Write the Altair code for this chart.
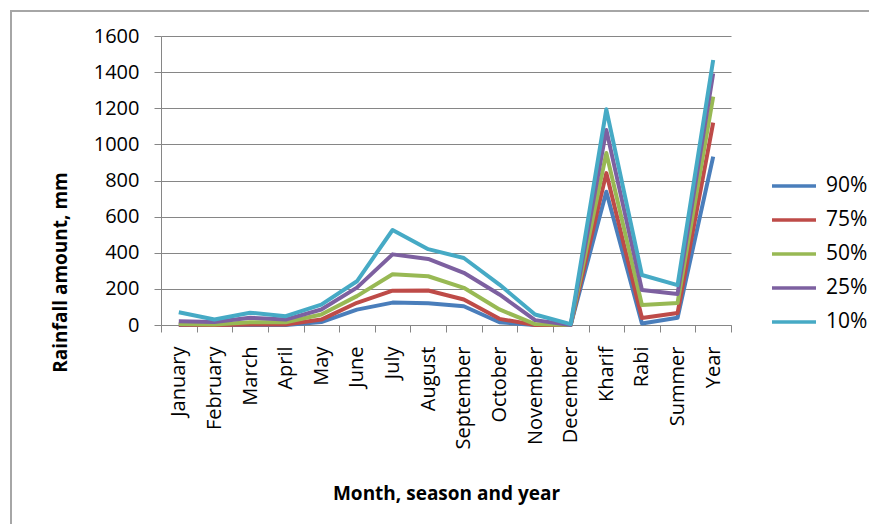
import altair as alt
import pandas as pd

categories = ["January", "February", "March", "April", "May", "June", "July",
              "August", "September", "October", "November", "December",
              "Kharif", "Rabi", "Summer", "Year"]
series_names = ["90%", "75%", "50%", "25%", "10%"]
series_colors = ["#4A7EBB", "#BE4B48", "#98B954", "#7D60A0", "#46AAC5"]

p90 = [0, 0, 0, 0, 16, 85, 124, 120, 104, 15, 0, 0, 738, 8, 40, 932]
p75 = [2, 0, 3, 3, 30, 123, 190, 191, 141, 34, 0, 0, 841, 39, 66, 1120]
p50 = [5, 3, 15, 15, 58, 160, 281, 270, 206, 86, 5, 0, 952, 111, 122, 1264]
p25 = [21, 17, 40, 30, 86, 207, 391, 366, 289, 169, 27, 0, 1080, 194, 172, 1393]
p10 = [71, 30, 68, 49, 113, 242, 526, 420, 371, 224, 58, 5, 1194, 277, 221, 1467]
y_ticks = [0, 200, 400, 600, 800, 1000, 1200, 1400, 1600]

rows = []
for name, vals in zip(series_names, [p90, p75, p50, p25, p10]):
    for i, (c, v) in enumerate(zip(categories, vals)):
        rows.append({"cat": c, "series": name, "value": v, "sidx": series_names.index(name)})
df = pd.DataFrame(rows)

FONT = "Open Sans"
GRID = "#868686"

lines = alt.Chart(df).mark_line(strokeWidth=4, strokeJoin="round").encode(
    x=alt.X("cat:N", sort=categories, bandPosition=0.5,
            scale=alt.Scale(type="band", paddingInner=0, paddingOuter=0),
            axis=alt.Axis(title="Month, season and year", tickBand="extent",
                          labelAngle=270, labelAlign="right", labelBaseline="middle",
                          labelPadding=14, tickSize=7, domainColor=GRID, tickColor=GRID,
                          labelFont=FONT, labelFontSize=20, labelColor="#000000",
                          titleFont=FONT, titleFontSize=19, titleFontWeight="bold",
                          titleColor="#000000", titleY=174, titleBaseline="alphabetic",
                          grid=False)),
    y=alt.Y("value:Q", scale=alt.Scale(domain=[0, 1600], nice=False),
            axis=alt.Axis(title="Rainfall amount, mm", values=y_ticks, format="d",
                          grid=True,
                          gridColor=GRID, domainColor=GRID, tickColor=GRID, tickSize=7,
                          labelPadding=15, labelFont=FONT, labelFontSize=20,
                          labelColor="#000000", titleFont=FONT, titleFontSize=19,
                          titleFontWeight="bold", titleColor="#000000",
                          titleAngle=270, titleAlign="center", titleBaseline="middle",
                          titleX=-101, titleY=236)),
    color=alt.Color("series:N", sort=series_names,
                    scale=alt.Scale(domain=series_names, range=series_colors),
                    legend=alt.Legend(title=None, orient="none", legendX=609, legendY=126,
                                      symbolType="stroke", symbolSize=1936,
                                      symbolStrokeWidth=3.5, labelFont=FONT,
                                      labelFontSize=21, labelColor="#000000",
                                      labelOffset=8, rowPadding=0)),
    order=alt.Order("sidx:Q"),
)

frame = alt.Chart(df).mark_rect(fill=None, stroke="#A6A6A6", strokeWidth=1.5).encode(
    x=alt.value(-150), x2=alt.value(800), y=alt.value(-25), y2=alt.value(600)
)

chart = alt.layer(frame, lines).properties(
    width=570, height=289,
    autosize=alt.AutoSizeParams(type="none"),
    padding={"left": 153, "top": 28, "right": 138, "bottom": 199},
).configure_view(stroke=None)

chart.save("out.html", embed_options={"renderer": "svg", "actions": False})
